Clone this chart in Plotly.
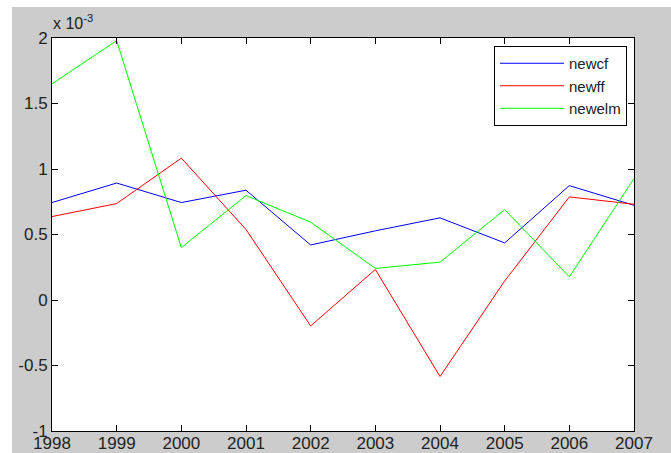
import plotly.graph_objects as go

years = [1998, 1999, 2000, 2001, 2002, 2003, 2004, 2005, 2006, 2007]
# values in units of 1e-3
newcf = [0.744, 0.893, 0.744, 0.838, 0.420, 0.528, 0.627, 0.436, 0.873, 0.723]
newff = [0.637, 0.736, 1.083, 0.538, -0.198, 0.233, -0.584, 0.145, 0.787, 0.731]
newelm = [1.650, 1.980, 0.400, 0.797, 0.594, 0.241, 0.289, 0.690, 0.177, 0.927]

ytick_vals = [-1, -0.5, 0, 0.5, 1, 1.5, 2]
ytick_text = ["-1", "-0.5", "0", "0.5", "1", "1.5", "2"]

W, H = 671, 453
L, R, T, B = 52, 634, 38, 431
pw, ph = R - L, B - T

def px2x(px):
    return (px - L) / pw

def py2y(py):
    return (B - py) / ph

fig = go.Figure()
for name, vals, col in [("newcf", newcf, "#0000ff"),
                        ("newff", newff, "#ff0000"),
                        ("newelm", newelm, "#00ff00")]:
    fig.add_trace(go.Scatter(x=years, y=vals, mode="lines", name=name,
                             line=dict(color=col, width=1)))

font = dict(family="Arial, Liberation Sans, sans-serif", size=17, color="#222222")

fig.update_layout(
    width=W, height=H,
    margin=dict(l=L, r=W - R, t=T, b=H - B, pad=0, autoexpand=False),
    paper_bgcolor="#cccccc",
    plot_bgcolor="#ffffff",
    font=font,
    showlegend=True,
    legend=dict(x=px2x(627), y=py2y(46), xanchor="right", yanchor="top",
                bgcolor="#ffffff", bordercolor="#000000", borderwidth=1,
                font=dict(size=15, color="#222222"),
                itemwidth=64, tracegroupgap=0),
    xaxis=dict(range=[1998, 2007], tickmode="array", tickvals=years,
               ticktext=[str(y) for y in years], automargin=False,
               ticks="inside", ticklen=6, tickcolor="#000000",
               ticklabelstandoff=-3,
               showline=True, linecolor="#000000", linewidth=1,
               mirror="ticks", showgrid=False, zeroline=False),
    yaxis=dict(range=[-1, 2], tickmode="array", tickvals=ytick_vals,
               ticktext=ytick_text, automargin=False,
               ticks="inside", ticklen=6, tickcolor="#000000",
               showline=True, linecolor="#000000", linewidth=1,
               mirror="ticks", showgrid=False, zeroline=False),
    shapes=[
        dict(type="rect", xref="paper", yref="paper",
             x0=px2x(-5), x1=px2x(12), y0=py2y(H + 5), y1=py2y(-5),
             fillcolor="#ffffff", line=dict(width=0), layer="above"),
        dict(type="rect", xref="paper", yref="paper",
             x0=px2x(-5), x1=px2x(W + 5), y0=py2y(7), y1=py2y(-5),
             fillcolor="#ffffff", line=dict(width=0), layer="above"),
    ],
    annotations=[
        dict(text="x 10<sup>-3</sup>", xref="paper", yref="paper",
             x=px2x(51), y=py2y(22), xanchor="left", yanchor="middle",
             showarrow=False, font=dict(size=16, color="#222222")),
    ],
)

fig.write_html("out.html", config={"displayModeBar": False},
               post_script="document.body.style.margin='0';document.body.style.overflow='hidden';")
